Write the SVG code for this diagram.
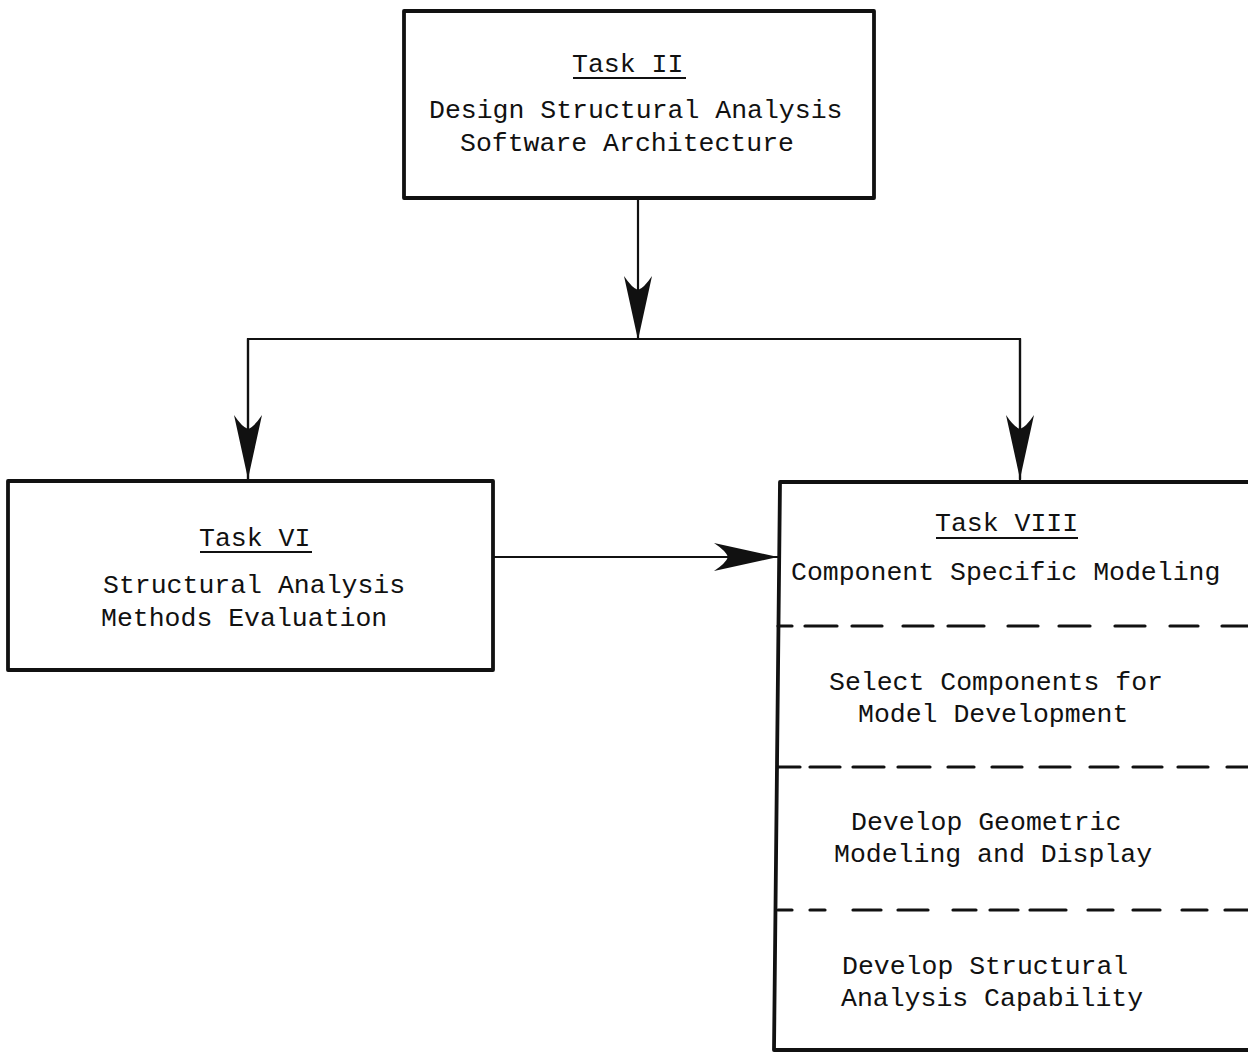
<svg xmlns="http://www.w3.org/2000/svg" width="1248" height="1053" viewBox="0 0 1248 1053">
  <style>
    .box { fill: #fff; stroke: #111; stroke-width: 3.8; stroke-linejoin: round; }
    .wire { fill: none; stroke: #111; stroke-width: 2.2; }
    .dash { fill: none; stroke: #111; stroke-width: 3.2; stroke-linecap: round; }
    .ul { stroke: #111; stroke-width: 2.2; }
    text { font-family: "Liberation Mono", "Courier New", monospace; font-size: 26.5px; fill: #111; }
  </style>
  <defs>
    <!-- concave-backed arrowhead, tip at the path end -->
    <marker id="head" viewBox="-66 -16 68 32" markerWidth="68" markerHeight="32" refX="0" refY="0" orient="auto" markerUnits="userSpaceOnUse">
      <path d="M0,0 L-64,-14 Q-52,-6 -50,0 Q-52,6 -64,14 Z" fill="#111"/>
    </marker>
  </defs>

  <!-- connectors -->
  <g id="connectors">
    <line class="wire" x1="638" y1="198" x2="638" y2="340" marker-end="url(#head)"/>
    <path class="wire" d="M248,480 V339 H1020 V480"/>
    <line class="wire" x1="248" y1="339" x2="248" y2="479" marker-end="url(#head)"/>
    <line class="wire" x1="1020" y1="339" x2="1020" y2="479" marker-end="url(#head)"/>
    <line class="wire" x1="493" y1="557" x2="778" y2="557" marker-end="url(#head)"/>
  </g>

  <!-- Task II -->
  <g id="task2">
    <rect class="box" x="404" y="11" width="470" height="187"/>
    <text x="572" y="72">Task II</text>
    <line class="ul" x1="573" y1="78" x2="686" y2="78"/>
    <text x="429" y="118">Design Structural Analysis</text>
    <text x="460" y="151">Software Architecture</text>
  </g>

  <!-- Task VI -->
  <g id="task6">
    <rect class="box" x="8" y="481" width="485" height="189"/>
    <text x="199" y="546">Task VI</text>
    <line class="ul" x1="200" y1="552" x2="312" y2="552"/>
    <text x="103" y="593">Structural Analysis</text>
    <text x="101" y="626">Methods Evaluation</text>
  </g>

  <!-- Task VIII (box runs past the right edge) -->
  <g id="task8">
    <path class="box" d="M1254,482 H780 L774,1050 H1254"/>
    <text x="935" y="531">Task VIII</text>
    <line class="ul" x1="936" y1="538" x2="1078" y2="538"/>
    <text x="791" y="580">Component Specific Modeling</text>
    <path class="dash" d="M778,626 H792 M805,626 h32 M852,626 h30 M903,626 h30 M948,626 h36 M1008,626 h30 M1059,626 h31 M1115,626 h30 M1170,626 h28 M1222,626 h30"/>
    <text x="829" y="690">Select Components for</text>
    <text x="858" y="722">Model Development</text>
    <path class="dash" d="M778,767 H800 M810,767 h30 M853,767 h31 M898,767 h32 M948,767 h26 M992,767 h30 M1040,767 h30 M1090,767 h28 M1133,767 h29 M1178,767 h30 M1227,767 h25"/>
    <text x="851" y="830">Develop Geometric</text>
    <text x="834" y="862">Modeling and Display</text>
    <path class="dash" d="M778,910 H792 M810,910 h15 M853,910 h28 M898,910 h30 M953,910 h23 M990,910 h28 M1030,910 h36 M1088,910 h25 M1133,910 h27 M1182,910 h25 M1225,910 h27"/>
    <text x="842" y="974">Develop Structural</text>
    <text x="841" y="1006">Analysis Capability</text>
  </g>
</svg>
